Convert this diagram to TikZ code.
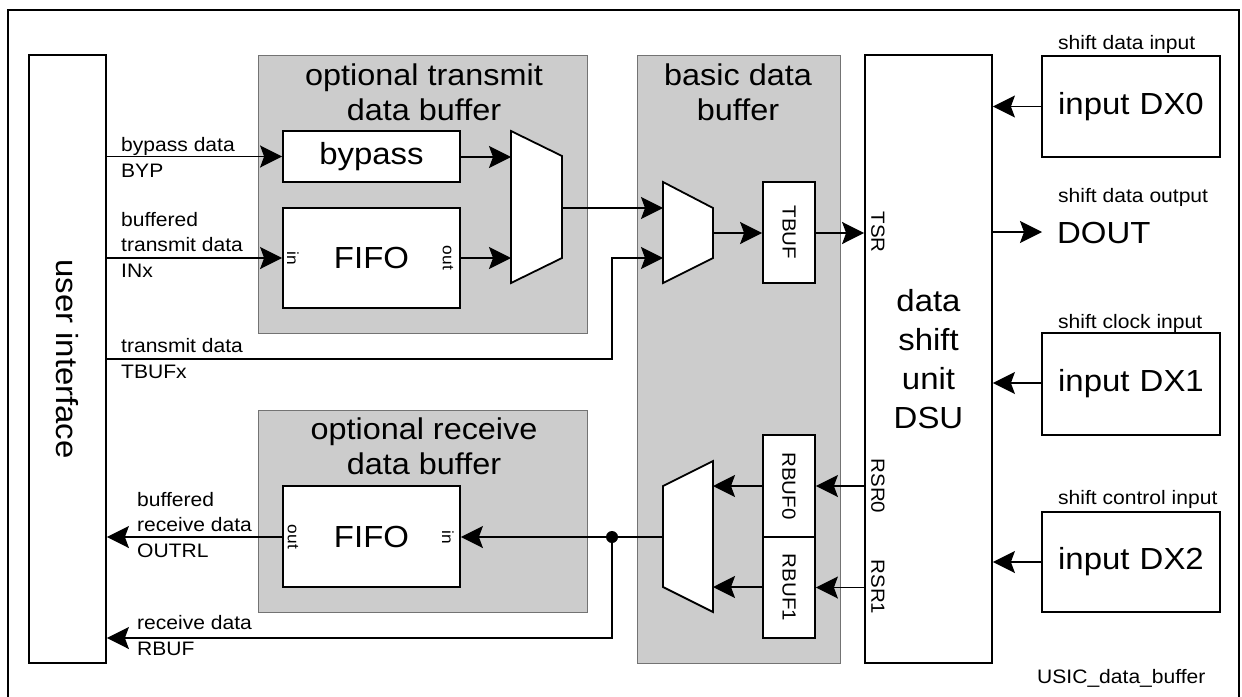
\documentclass[tikz,border=0pt]{standalone}
\usepackage{fontspec}
\setmainfont{Liberation Sans}[FakeStretch=1.08]
\usetikzlibrary{arrows.meta,positioning}

\begin{document}
\begin{tikzpicture}[x=1pt,y=-1pt]
\tikzset{
  area/.style={draw=black!55,line width=0.8pt,fill=black!20,inner sep=0pt},
  block/.style={draw,line width=1.8pt,fill=white,inner sep=0pt,font=\fontsize{30.5}{34}\selectfont},
  regbox/.style={draw,line width=1.8pt,fill=white,inner sep=0pt,font=\fontsize{19}{21}\selectfont},
  muxshape/.style={draw,line width=1.8pt,fill=white,line join=miter},
  sig/.style={line width=1.8pt,-{Stealth[length=22pt,width=22pt,inset=4pt]}},
  wire/.style={line width=1.8pt},
  lbl/.style={font=\fontsize{19.5}{25.5}\selectfont,inner sep=0pt,align=left,anchor=base west},
  title/.style={font=\fontsize{30}{35}\selectfont,inner sep=0pt,align=center,anchor=base},
  pinlbl/.style={font=\fontsize{16}{18}\selectfont,inner sep=0pt,rotate=-90}
}
\useasboundingbox (0,0) rectangle (1242,696);
% outer frame
\draw[line width=1.5pt] (8,700) -- (8,10) -- (1239,10) -- (1239,700);

% buffer areas
\node[area,minimum width=329pt,minimum height=278pt] (txarea) at (422.5,194) {};
\node[area,minimum width=203pt,minimum height=608pt] (basicarea) at (738.5,359) {};
\node[area,minimum width=329pt,minimum height=202pt] (rxarea) at (422.5,511) {};
\node[title] (txtitle) at (424,120) {optional transmit\\data buffer};
\node[title] (basictitle) at (738,120) {basic data\\buffer};
\node[title] (rxtitle) at (424,474) {optional receive\\data buffer};

% blocks
\node[block,minimum width=77pt,minimum height=608pt] (ui) at (67.5,359) {};
\node[font=\fontsize{30.5}{34}\selectfont,rotate=-90] (uitext) at (ui.center) {user interface};
\node[block,minimum width=177pt,minimum height=51pt] (bypass) at (371.5,156.5) {bypass};
\node[block,minimum width=177pt,minimum height=100pt] (fifotx) at (371.5,258) {FIFO};
\node[block,minimum width=177pt,minimum height=101pt] (fiforx) at (371.5,536.5) {FIFO};
\node[regbox,minimum width=52pt,minimum height=101pt] (tbuf) at (789,232.5) {};
\node[regbox,minimum width=52pt,minimum height=102pt] (rbuf0) at (789,486) {};
\node[regbox,minimum width=52pt,minimum height=101pt] (rbuf1) at (789,587.5) {};
\node[font=\fontsize{19}{21}\selectfont,rotate=-90] at (tbuf.center) {TBUF};
\node[font=\fontsize{19}{21}\selectfont,rotate=-90] at (rbuf0.center) {RBUF0};
\node[font=\fontsize{19}{21}\selectfont,rotate=-90] at (rbuf1.center) {RBUF1};
\node[block,minimum width=127pt,minimum height=608pt,align=center,
  font=\fontsize{30.5}{39}\selectfont] (dsu) at (928.5,359) {data\\shift\\unit\\DSU};
\node[block,minimum width=178pt,minimum height=101pt] (dx0) at (1131,106.5) {input\,\,DX0};
\node[block,minimum width=178pt,minimum height=102pt] (dx1) at (1131,384) {input\,\,DX1};
\node[block,minimum width=178pt,minimum height=100pt] (dx2) at (1131,562) {input\,\,DX2};

% pin names
\node[pinlbl] (fifotxin) at (293,258) {in};
\node[pinlbl] (fifotxout) at (448,258) {out};
\node[pinlbl] (fiforxout) at (293,537) {out};
\node[pinlbl] (fiforxin) at (448,537) {in};
\node[pinlbl,font=\fontsize{19}{21}\selectfont] (tsr) at (878,232) {TSR};
\node[pinlbl,font=\fontsize{19}{21}\selectfont] (rsr0) at (878,486) {RSR0};
\node[pinlbl,font=\fontsize{19}{21}\selectfont] (rsr1) at (878,587) {RSR1};

% multiplexers
\draw[muxshape] (511,131) -- (562,156) -- (562,258) -- (511,283) -- cycle;
\draw[muxshape] (663,182) -- (713,208) -- (713,258) -- (663,283) -- cycle;
\draw[muxshape] (663,486) -- (713,461) -- (713,612) -- (663,587) -- cycle;
\coordinate (mtx_in1) at (511,157);
\coordinate (mtx_in2) at (511,258);
\coordinate (mtx_out) at (562,208);
\coordinate (mb_in1) at (663,208);
\coordinate (mb_in2) at (663,258);
\coordinate (mb_out) at (713,233);
\coordinate (mrx_in0) at (713,486);
\coordinate (mrx_in1) at (713,587);
\coordinate (mrx_out) at (663,537);
\coordinate (tx_bend) at (612,359);
\coordinate (rx_split) at (612,537);
\coordinate (rx_bend) at (612,638);

% outputs of the shift unit
\node[font=\fontsize{30.5}{34}\selectfont,anchor=base west,inner xsep=15pt,inner ysep=0pt] (dout) at (1042,243) {DOUT};

% transmit path
\draw[sig] (ui.east |- bypass.west) -- (bypass.west);
\draw[sig] (ui.east |- fifotx.west) -- (fifotx.west);
\draw[sig] (bypass.east |- mtx_in1) -- (mtx_in1);
\draw[sig] (fifotx.east) -- (mtx_in2);
\draw[sig] (mtx_out) -- (mb_in1);
\draw[sig] (ui.east |- tx_bend) -- (tx_bend) |- (mb_in2);
\draw[sig] (mb_out) -- (tbuf.west |- mb_out);
\draw[sig] (tbuf.east |- mb_out) -- (dsu.west |- mb_out);

% receive path
\draw[sig] (dsu.west |- rbuf0.east) -- (rbuf0.east);
\draw[sig] (dsu.west |- rbuf1.east) -- (rbuf1.east);
\draw[sig] (rbuf0.west) -- (mrx_in0);
\draw[sig] (rbuf1.west |- mrx_in1) -- (mrx_in1);
\draw[wire] (mrx_out) -- (rx_split);
\draw[sig] (rx_split) -- (fiforx.east |- rx_split);
\draw[sig] (fiforx.west |- rx_split) -- (ui.east |- rx_split);
\draw[sig] (rx_split) -- (rx_bend) -- (ui.east |- rx_bend);
\fill (rx_split) circle (6pt);

% shift unit pins
\draw[sig] (dx0.west) -- (dsu.east |- dx0.west);
\draw[sig] (dx1.west |- 0,383) -- (dsu.east |- 0,383);
\draw[sig] (dx2.west) -- (dsu.east |- dx2.west);
\draw[sig] (dsu.east |- 0,232) -- (dout.west |- 0,232);

% signal labels
\node[lbl] (lbyp) at (121,177) {bypass data\\BYP};
\node[lbl] (linx) at (121,277) {buffered\\transmit data\\INx};
\node[lbl] (ltbufx) at (121,378) {transmit data\\TBUFx};
\node[lbl] (loutrl) at (137,557) {buffered\\receive data\\OUTRL};
\node[lbl] (lrbuf) at (137,655) {receive data\\RBUF};
\node[lbl] (ldx0) at (1058,49) {shift data input};
\node[lbl] (ldout) at (1058,202) {shift data output};
\node[lbl] (ldx1) at (1058,328) {shift clock input};
\node[lbl] (ldx2) at (1058,504) {shift control input};
\node[lbl] (fig) at (1037,683) {USIC\_data\_buffer};
\end{tikzpicture}
\end{document}
